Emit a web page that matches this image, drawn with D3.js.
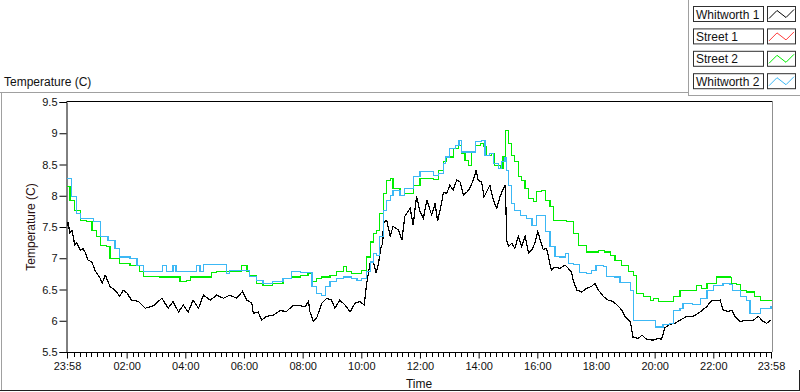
<!DOCTYPE html>
<html><head><meta charset="utf-8">
<script src="https://cdn.jsdelivr.net/npm/d3@7"></script>
<style>
html,body{margin:0;padding:0;background:#fff;}
svg{display:block;font-family:"Liberation Sans",Arial,sans-serif;}
</style></head>
<body><svg id="c" width="800" height="392"></svg>
<script>
// ---- data (minutes after 23:58, temperature °C) ----
const seriesNames = ["Whitworth 1","Street 1","Street 2","Whitworth 2"];
const seriesColors = ["#000000","#ff3c3c","#00ee00","#3cb8f5"];
const whitworth1 = [[0,7.52],[2,7.58],[6,7.40],[10,7.45],[16,7.21],[20,7.25],[27,7.13],[33,7.15],[37,7.10],[43,6.97],[51,6.94],[57,6.81],[68,6.68],[72,6.60],[78,6.73],[80,6.70],[88,6.55],[98,6.49],[108,6.39],[115,6.49],[122,6.45],[132,6.33],[146,6.31],[160,6.20],[177,6.24],[194,6.36],[207,6.20],[217,6.31],[228,6.14],[238,6.25],[248,6.14],[258,6.33],[269,6.20],[279,6.41],[293,6.33],[306,6.41],[320,6.36],[333,6.41],[347,6.36],[359,6.47],[368,6.33],[378,6.28],[381,6.12],[391,6.14],[398,6.01],[408,6.07],[422,6.09],[436,6.16],[449,6.15],[463,6.25],[477,6.24],[487,6.22],[494,6.31],[497,6.14],[504,5.99],[511,6.05],[521,6.28],[531,6.36],[541,6.33],[548,6.20],[558,6.33],[569,6.25],[579,6.14],[589,6.28],[599,6.31],[608,6.25],[613,6.60],[620,6.92],[627,6.94],[632,6.76],[637,6.91],[642,7.16],[646,7.25],[647,7.56],[654,7.61],[661,7.35],[667,7.51],[678,7.45],[685,7.29],[691,7.67],[702,7.80],[708,7.53],[715,7.99],[722,7.75],[729,7.64],[736,7.93],[746,7.69],[753,7.88],[758,7.59],[764,7.80],[770,8.05],[777,8.04],[783,8.17],[790,8.09],[797,8.25],[804,8.22],[811,8.01],[818,8.06],[824,8.12],[831,8.25],[837,8.41],[841,8.25],[848,8.22],[853,7.98],[858,8.06],[865,8.17],[872,7.93],[879,7.80],[886,7.99],[891,8.09],[896,8.17],[898,7.77],[899,7.29],[903,7.19],[910,7.24],[916,7.16],[923,7.35],[930,7.19],[937,7.35],[944,7.08],[951,7.14],[957,7.24],[963,7.43],[968,7.29],[974,7.14],[981,7.16],[987,6.94],[991,6.81],[998,6.86],[1008,6.84],[1019,6.89],[1025,6.84],[1032,6.78],[1036,6.63],[1043,6.49],[1053,6.46],[1063,6.52],[1073,6.55],[1080,6.60],[1087,6.49],[1097,6.39],[1107,6.33],[1117,6.31],[1128,6.23],[1135,6.17],[1141,6.07],[1152,5.99],[1158,5.73],[1169,5.72],[1176,5.77],[1186,5.70],[1199,5.69],[1210,5.72],[1216,5.70],[1223,5.89],[1233,5.94],[1244,5.96],[1254,6.01],[1268,6.07],[1281,6.07],[1295,6.14],[1309,6.23],[1319,6.33],[1326,6.32],[1336,6.33],[1342,6.17],[1353,6.15],[1360,6.17],[1366,6.07],[1377,5.99],[1390,6.01],[1404,6.01],[1414,6.07],[1424,5.99],[1431,5.96],[1440,6.01]];
const street1 = [];
const street2 = [[0,8.15],[6,7.93],[16,7.77],[27,7.61],[40,7.59],[51,7.45],[61,7.35],[68,7.21],[81,7.19],[88,7.00],[105,7.00],[108,6.92],[129,6.89],[149,6.79],[156,6.71],[190,6.70],[224,6.70],[231,6.63],[245,6.65],[252,6.70],[293,6.70],[296,6.77],[306,6.79],[354,6.79],[357,6.89],[368,6.79],[374,6.72],[388,6.60],[401,6.57],[421,6.60],[442,6.67],[460,6.70],[477,6.73],[493,6.76],[501,6.63],[511,6.68],[521,6.70],[538,6.73],[552,6.79],[565,6.87],[572,6.79],[582,6.76],[593,6.76],[603,6.81],[613,7.02],[620,7.26],[627,7.40],[633,7.45],[640,7.72],[647,8.04],[654,8.25],[661,8.28],[667,8.12],[681,8.01],[691,8.04],[708,8.17],[722,8.28],[736,8.28],[749,8.26],[760,8.41],[770,8.55],[777,8.62],[783,8.62],[790,8.76],[800,8.81],[807,8.68],[814,8.57],[821,8.49],[828,8.70],[835,8.81],[845,8.84],[852,8.79],[858,8.65],[869,8.67],[875,8.49],[886,8.44],[892,8.62],[897,9.05],[903,8.84],[910,8.65],[916,8.55],[923,8.31],[930,8.25],[937,8.12],[944,7.96],[954,7.91],[961,8.07],[971,8.08],[978,7.93],[988,7.83],[995,7.61],[1022,7.59],[1036,7.40],[1046,7.21],[1056,7.20],[1063,7.10],[1077,7.10],[1087,7.13],[1100,7.10],[1111,7.05],[1121,6.97],[1135,6.89],[1148,6.79],[1158,6.72],[1165,6.44],[1179,6.39],[1193,6.33],[1199,6.36],[1210,6.31],[1233,6.31],[1240,6.39],[1254,6.48],[1281,6.49],[1288,6.57],[1298,6.52],[1309,6.60],[1319,6.60],[1329,6.70],[1356,6.69],[1360,6.60],[1370,6.58],[1377,6.49],[1390,6.46],[1407,6.39],[1418,6.33],[1440,6.32]];
const whitworth2 = [[0,8.28],[10,7.99],[20,7.71],[27,7.64],[33,7.64],[54,7.59],[61,7.59],[68,7.35],[84,7.29],[98,7.16],[108,7.02],[129,7.00],[143,6.89],[156,6.79],[190,6.79],[196,6.89],[203,6.79],[215,6.79],[217,6.89],[223,6.79],[252,6.79],[265,6.89],[272,6.79],[279,6.90],[320,6.90],[327,6.76],[333,6.80],[368,6.80],[374,6.71],[388,6.65],[401,6.60],[421,6.63],[442,6.68],[460,6.79],[477,6.77],[493,6.77],[501,6.55],[511,6.44],[521,6.41],[528,6.55],[538,6.63],[552,6.68],[565,6.70],[582,6.68],[593,6.65],[603,6.68],[613,6.79],[620,6.94],[627,7.08],[633,7.05],[640,7.35],[647,7.77],[654,7.93],[661,8.01],[667,8.09],[681,8.01],[691,8.12],[708,8.31],[722,8.39],[736,8.39],[749,8.33],[760,8.36],[770,8.52],[775,8.62],[783,8.76],[794,8.81],[802,8.89],[807,8.70],[828,8.70],[835,8.87],[848,8.88],[855,8.65],[865,8.67],[872,8.52],[882,8.44],[889,8.55],[896,8.61],[899,8.41],[903,8.17],[910,7.88],[916,7.77],[927,7.69],[940,7.64],[951,7.53],[961,7.68],[971,7.69],[978,7.43],[988,7.19],[998,7.03],[1008,7.02],[1019,7.08],[1025,6.92],[1036,6.90],[1049,6.77],[1063,6.76],[1073,6.81],[1082,6.89],[1097,6.87],[1104,6.71],[1121,6.70],[1131,6.61],[1152,6.49],[1158,6.01],[1193,6.01],[1203,5.90],[1213,5.90],[1219,5.94],[1233,5.96],[1240,6.17],[1254,6.19],[1260,6.28],[1280,6.26],[1295,6.36],[1309,6.49],[1322,6.57],[1342,6.59],[1356,6.58],[1362,6.49],[1377,6.39],[1390,6.33],[1397,6.12],[1411,6.11],[1418,6.20],[1440,6.23]];
const seriesData = [whitworth1, street1, street2, whitworth2];
const yTicks = [5.5,6,6.5,7,7.5,8,8.5,9,9.5];
const yTickLabels = ["5.5","6","6.5","7","7.5","8","8.5","9","9.5"];
const xMajorHours = [2,4,6,8,10,12,14,16,18,20,22];
const yTitle = "Temperature (C)";
const xTitle = "Time";

// ---- layout ----
const svg = d3.select("#c");
const L = 67, R = 771, T = 102, B = 352;
const start = new Date(2000,0,1,23,58);
const end = new Date(+start + 1440*60000);
const toDate = m => new Date(+start + m*60000);
const x = d3.scaleTime().domain([start,end]).range([L,R]);
const y = d3.scaleLinear().domain([5.5,9.5]).range([B,T]);

// outer frame
svg.append("line").attr("x1",0).attr("x2",688).attr("y1",92.5).attr("y2",92.5).attr("stroke","#a0a0a0");
svg.append("line").attr("x1",688.5).attr("x2",688.5).attr("y1",0).attr("y2",95).attr("stroke","#a0a0a0");
svg.append("line").attr("x1",688).attr("x2",800).attr("y1",95.5).attr("y2",95.5).attr("stroke","#a0a0a0");
svg.append("line").attr("x1",1.5).attr("x2",1.5).attr("y1",92.5).attr("y2",390).attr("stroke","#a0a0a0");
svg.append("line").attr("x1",0).attr("x2",800).attr("y1",390.5).attr("y2",390.5).attr("stroke","#202020");
svg.append("line").attr("x1",799.5).attr("x2",799.5).attr("y1",370).attr("y2",391).attr("stroke","#202020");

// title
svg.append("text").attr("x",4).attr("y",86).attr("font-size",12).attr("fill","#111").text(yTitle);

// plot frame
svg.append("line").attr("x1",L-0.5).attr("x2",R+1.5).attr("y1",T-0.5).attr("y2",T-0.5).attr("stroke","#000");
svg.append("line").attr("x1",R+1.5).attr("x2",R+1.5).attr("y1",T-0.5).attr("y2",B).attr("stroke","#909090");

// y axis
const yAxis = d3.axisLeft(y).tickValues(yTicks).tickSize(7).tickPadding(2)
  .tickFormat((d,i)=>yTickLabels[i]);
const gy = svg.append("g").attr("transform",`translate(${L-0.5},0)`).call(yAxis);
gy.select(".domain").attr("stroke","#000");
gy.selectAll(".tick line").attr("stroke","#000");
gy.selectAll(".tick text").attr("font-size",11).attr("fill","#111").attr("font-family","Liberation Sans, Arial, sans-serif");

// x axis: majors
const majors = [start].concat(xMajorHours.map(h=>new Date(2000,0,2,h,0)), [end]);
const xAxis = d3.axisBottom(x).tickValues(majors).tickSize(6).tickPadding(4)
  .tickFormat(d3.timeFormat("%H:%M"));
const gx = svg.append("g").attr("transform",`translate(0,${B+0.5})`).call(xAxis);
gx.select(".domain").attr("stroke","#000").attr("d",`M${L-0.5},0H${R+1}`);
gx.selectAll(".tick line").attr("stroke","#000").attr("stroke-width",1);
gx.selectAll(".tick text").attr("font-size",11).attr("fill","#111").attr("font-family","Liberation Sans, Arial, sans-serif");
// minor ticks every 12 min
const minors = [];
for (let m = 12; m < 24*60; m += 12) {
  const d = new Date(2000,0,2,0,0); d.setMinutes(m);
  if (m % 120 === 0) continue;
  if (+d > +end - 3*60000) continue;
  minors.push(d);
}
svg.append("g").selectAll("line").data(minors).join("line")
  .attr("x1",d=>Math.round(x(d))+0.5).attr("x2",d=>Math.round(x(d))+0.5)
  .attr("y1",B+1).attr("y2",B+5).attr("stroke","#000");

// axis titles
svg.append("text").attr("x",(L+R)/2).attr("y",388).attr("text-anchor","middle")
  .attr("font-size",12).attr("fill","#111").text(xTitle);
svg.append("text").attr("transform",`translate(35,${(T+B)/2}) rotate(-90)`).attr("text-anchor","middle")
  .attr("font-size",12).attr("fill","#2a1010").text(yTitle);

// series
svg.append("clipPath").attr("id","pc").append("rect").attr("x",L).attr("y",T).attr("width",R-L+1).attr("height",B-T);
const lineLin = d3.line().x(d=>x(toDate(d[0]))).y(d=>y(d[1]));
const lineStep = d3.line().curve(d3.curveStepAfter).x(d=>x(toDate(d[0]))).y(d=>y(d[1]));
const gl = svg.append("g").attr("clip-path","url(#pc)");
seriesData.forEach((s,i)=>{
  if (!s.length) return;
  gl.append("path").datum(s).attr("d", i===0 ? lineLin : lineStep).attr("fill","none")
    .attr("stroke",seriesColors[i]).attr("stroke-width",1.2)
    .attr("shape-rendering","crispEdges");
});

// legend
const lg = svg.append("g");
seriesNames.forEach((n,i)=>{
  const yy = 6 + i*22.4;
  lg.append("rect").attr("x",693.5).attr("y",yy+0.5).attr("width",70).attr("height",15)
    .attr("fill","#fff").attr("stroke","#303030");
  lg.append("text").attr("x",696).attr("y",yy+12.5).attr("font-size",12).attr("fill","#111").text(n);
  lg.append("rect").attr("x",767.5).attr("y",yy+0.5).attr("width",28).attr("height",15)
    .attr("fill","#fff").attr("stroke","#303030");
  lg.append("path").attr("d",`M${769},${yy+12.5}L${777},${yy+4.5}L${786},${yy+11.5}L${794},${yy+3.5}`)
    .attr("fill","none").attr("stroke",seriesColors[i]).attr("stroke-width",1);
});
</script></body></html>
